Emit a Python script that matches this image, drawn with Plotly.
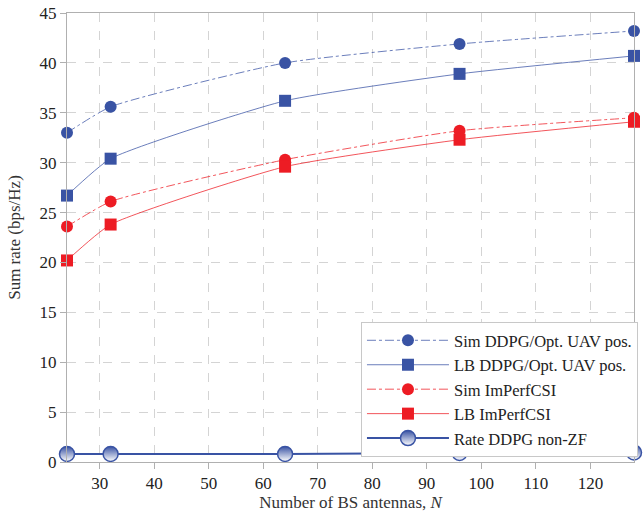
import plotly.graph_objects as go

N = [24, 32, 64, 96, 128]
sim_ddpg = [33.0, 35.6, 40.0, 41.9, 43.2]
lb_ddpg = [26.7, 30.4, 36.2, 38.9, 40.7]
sim_imperf = [23.6, 26.1, 30.3, 33.2, 34.5]
lb_imperf = [20.2, 23.8, 29.6, 32.3, 34.1]
rate_nonzf = [0.8, 0.8, 0.8, 0.9, 0.95]

x_ticks = [30, 40, 50, 60, 70, 80, 90, 100, 110, 120]
y_ticks = [0, 5, 10, 15, 20, 25, 30, 35, 40, 45]

BLUE = "#3953A4"
BLUE_L = "rgba(57,83,164,0.75)"
RED = "#ED1C24"
RED_L = "rgba(237,28,36,0.75)"
FONT = "Liberation Serif"

fig = go.Figure()
fig.add_trace(go.Scatter(x=N, y=sim_ddpg, mode="lines+markers", name="Sim DDPG/Opt. UAV pos.",
                         cliponaxis=False,
                         line=dict(color=BLUE_L, width=1, dash="dashdot", shape="spline", smoothing=0.5),
                         marker=dict(symbol="circle", size=12, color=BLUE)))
fig.add_trace(go.Scatter(x=N, y=lb_ddpg, mode="lines+markers", name="LB DDPG/Opt. UAV pos.",
                         cliponaxis=False,
                         line=dict(color=BLUE_L, width=1, shape="spline", smoothing=0.5),
                         marker=dict(symbol="square", size=12, color=BLUE)))
fig.add_trace(go.Scatter(x=N, y=sim_imperf, mode="lines+markers", name="Sim ImPerfCSI",
                         cliponaxis=False,
                         line=dict(color=RED_L, width=1, dash="dashdot", shape="spline", smoothing=0.5),
                         marker=dict(symbol="circle", size=12, color=RED)))
fig.add_trace(go.Scatter(x=N, y=lb_imperf, mode="lines+markers", name="LB ImPerfCSI",
                         cliponaxis=False,
                         line=dict(color=RED_L, width=1, shape="spline", smoothing=0.5),
                         marker=dict(symbol="square", size=12, color=RED)))
fig.add_trace(go.Scatter(x=N, y=rate_nonzf, mode="lines+markers", name="Rate DDPG non-ZF",
                         cliponaxis=False,
                         line=dict(color=BLUE, width=2),
                         marker=dict(symbol="circle", size=15, color=BLUE,
                                     gradient=dict(type="vertical", color="white"),
                                     line=dict(color=BLUE, width=1.5))))

axis_common = dict(showline=True, linecolor="#b0b0b0", linewidth=1, mirror=True,
                   showgrid=True, gridcolor="#d4d4d4", griddash="dash", gridwidth=1,
                   zeroline=False, ticks="outside", ticklen=6, tickcolor="#b0b0b0",
                   automargin=False, ticklabeloverflow="allow",
                   tickfont=dict(family=FONT, size=17, color="#222"))

fig.update_layout(
    width=644, height=518,
    margin=dict(l=67, r=6, t=13, b=56),
    paper_bgcolor="white", plot_bgcolor="white",
    font=dict(family=FONT, size=16, color="#222"),
    showlegend=True,
    legend=dict(x=1.007, xanchor="right", y=0.011, yanchor="bottom",
                bgcolor="white", bordercolor="#c8c8c8", borderwidth=1,
                font=dict(family=FONT, size=16.5, color="#222"),
                tracegroupgap=0, itemwidth=82),
    xaxis=dict(range=[24, 128], tickvals=x_ticks, ticktext=[str(v) for v in x_ticks],
               title=dict(text="Number of BS antennas, <i>N</i>", standoff=0,
                          font=dict(family=FONT, size=17, color="#333")), **axis_common),
    yaxis=dict(range=[0, 45], tickvals=y_ticks, ticktext=[str(v) for v in y_ticks],
               title=dict(text="Sum rate (bps/Hz)", standoff=14,
                          font=dict(family=FONT, size=17, color="#333")), **axis_common),
)

# remove the default 8px page margin so the 644x518 figure fills the window exactly
fig.write_html("out.html", config={"displayModeBar": False},
               post_script="document.body.style.margin='0';document.body.style.overflow='hidden';")
